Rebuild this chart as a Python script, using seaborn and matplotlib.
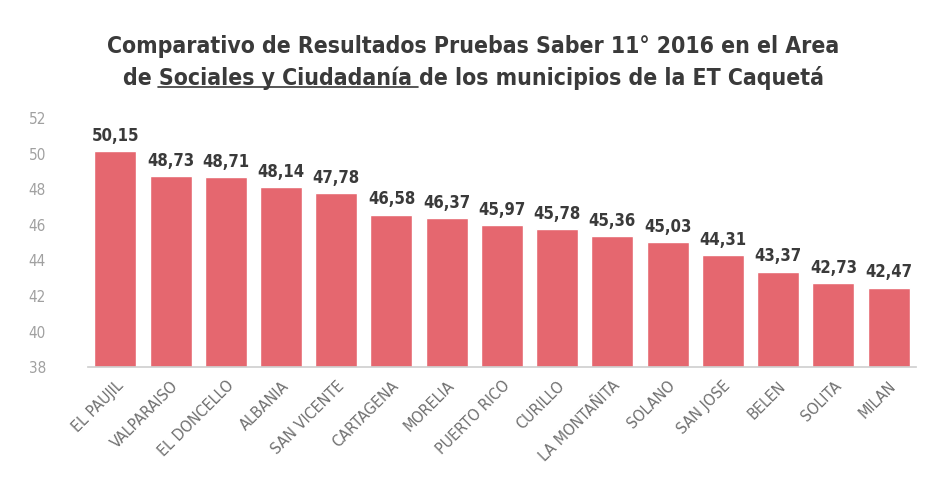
import matplotlib
matplotlib.use("Agg")
import matplotlib.pyplot as plt
from matplotlib import font_manager
import seaborn as sns
import pandas as pd

municipios = ["EL PAUJIL", "VALPARAISO", "EL DONCELLO", "ALBANIA", "SAN VICENTE",
              "CARTAGENA", "MORELIA", "PUERTO RICO", "CURILLO", "LA MONTAÑITA",
              "SOLANO", "SAN JOSE", "BELEN", "SOLITA", "MILAN"]
puntajes = [50.15, 48.73, 48.71, 48.14, 47.78, 46.58, 46.37, 45.97, 45.78, 45.36,
            45.03, 44.31, 43.37, 42.73, 42.47]
y_ticks = [38, 40, 42, 44, 46, 48, 50, 52]

sns.set_theme(style="white")

# pick a condensed font if available
names = {(f.name, f.stretch) for f in font_manager.fontManager.ttflist}
family = "DejaVu Sans"
stretch = "normal"
if any(n == "Liberation Sans Narrow" for n, _ in names):
    family = "Liberation Sans Narrow"
elif any(n == "DejaVu Sans" and s in ("condensed", "semi-condensed", 75, 87) for n, s in names):
    family, stretch = "DejaVu Sans", "condensed"
elif any("Condensed" in n for n, _ in names):
    family = sorted(n for n, _ in names if "Condensed" in n)[0]
plt.rcParams['font.family'] = [family, "DejaVu Sans"]
plt.rcParams['font.stretch'] = stretch

df = pd.DataFrame({"municipio": municipios, "puntaje": puntajes})

fig = plt.figure(figsize=(9.33, 4.83), dpi=100)
ax = fig.add_axes([0.094, 0.24, 0.888, 0.515])

sns.barplot(data=df, x="municipio", y="puntaje", color="#E5676F", saturation=1,
            width=0.76, ax=ax)

ax.set_ylim(38, 52)
ax.set_yticks(y_ticks)
ax.set_yticklabels([str(t) for t in y_ticks], color="#a0a0a0", fontsize=11)
ax.set_xlabel("")
ax.set_ylabel("")
ax.set_xlim(-0.5, len(municipios) - 0.5)
ax.set_xticks(range(len(municipios)))
ax.set_xticklabels(municipios, rotation=45, ha="right", rotation_mode="anchor",
                   color="#707070", fontsize=11.5)
ax.tick_params(axis="x", pad=8, length=0)
ax.tick_params(axis="y", pad=30, length=0)
for s in ["top", "right", "left"]:
    ax.spines[s].set_visible(False)
ax.spines["bottom"].set_color("#d0d0d0")

for i, v in enumerate(puntajes):
    ax.text(i, v + 0.35, f"{v:.2f}".replace(".", ","), ha="center", va="bottom",
            fontsize=12, fontweight="bold", color="#3a3a3a")

tcol = "#3a3a3a"
tsize = 16.5
fig.text(0.507, 0.903, "Comparativo de Resultados Pruebas Saber 11° 2016 en el Area",
         ha="center", va="center", fontsize=tsize, fontweight="bold", color=tcol)
line2 = fig.text(0.507, 0.839, "de Sociales y Ciudadanía de los municipios de la ET Caquetá",
                 ha="center", va="center", fontsize=tsize, fontweight="bold", color=tcol)

# underline "Sociales y Ciudadanía"
fig.canvas.draw()
r = fig.canvas.get_renderer()
full_bb = line2.get_window_extent(r)
def width_of(s):
    t = fig.text(0, 0, s, fontsize=tsize, fontweight="bold")
    w = t.get_window_extent(r).width
    t.remove()
    return w
x0 = full_bb.x0 + width_of("de ")
x1 = full_bb.x0 + width_of("de Sociales y Ciudadanía ") - 1
W, H = fig.bbox.width, fig.bbox.height
yline = (full_bb.y0 + 3) / H
fig.add_artist(plt.Line2D([x0 / W, x1 / W], [yline, yline], color=tcol, lw=1.2))

fig.savefig("out.png", dpi=100, facecolor="white")
